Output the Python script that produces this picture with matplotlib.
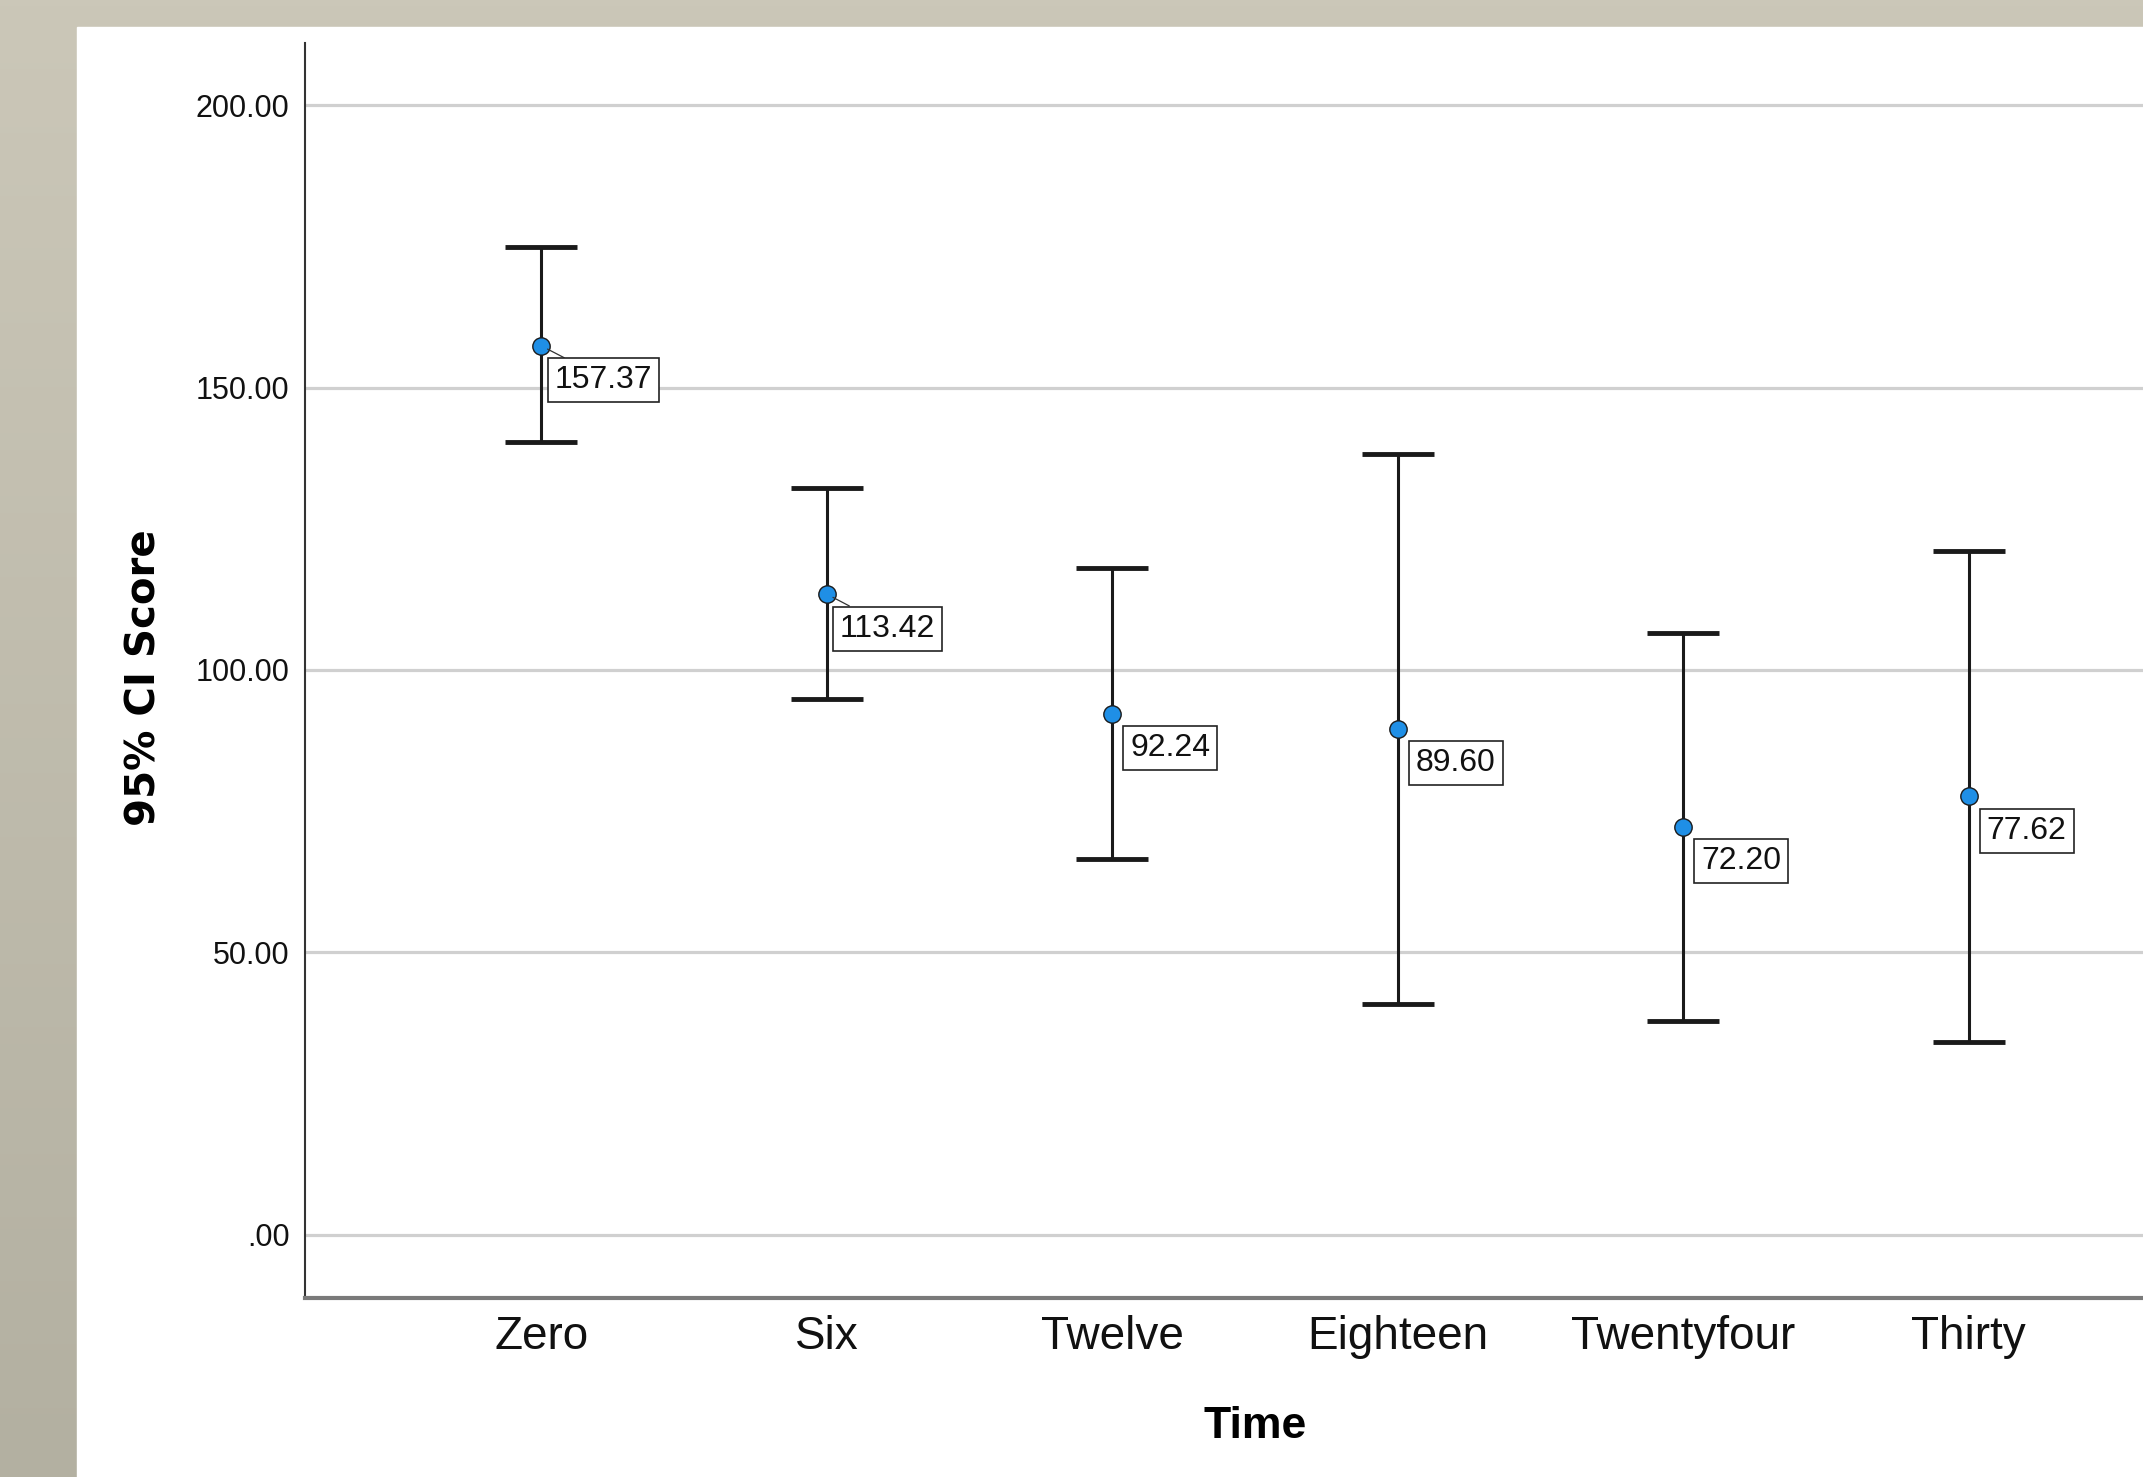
import numpy as np
import matplotlib
matplotlib.use("Agg")
import matplotlib.pyplot as plt
from matplotlib.colors import LinearSegmentedColormap
from matplotlib.patches import Rectangle

# data
times = ["Zero", "Six", "Twelve", "Eighteen", "Twentyfour", "Thirty"]
means = [157.37, 113.42, 92.24, 89.60, 72.20, 77.62]
ci_upper = [174.8, 132.2, 118.1, 138.3, 106.5, 121.0]
ci_lower = [140.3, 94.9, 66.6, 40.9, 37.9, 34.2]
yticks = [0, 50, 100, 150, 200]
ytick_labels = [".00", "50.00", "100.00", "150.00", "200.00"]

# narrowest installed sans for the horizontal text
narrow = "Liberation Sans"

W, H = 2143, 1477
fig = plt.figure(figsize=(W / 100, H / 100), dpi=100)

# slide background: beige frame + white panel
bg = fig.add_axes([0, 0, 1, 1], zorder=-5)
bg.set_axis_off()
cmap = LinearSegmentedColormap.from_list("beige", ["#cbc7b8", "#b3b0a1"])
bg.imshow(np.linspace(0, 1, 256).reshape(-1, 1), cmap=cmap, aspect="auto",
          extent=[0, 1, 0, 1])
bg.add_patch(Rectangle((77 / W, 0), 1, 1 - 27 / H, color="white"))
bg.set_xlim(0, 1)
bg.set_ylim(0, 1)

# main axes (runs past the right edge, like the cropped screenshot)
left, right, top, bottom = 305, 2205, 43, 1298
ax = fig.add_axes([left / W, 1 - bottom / H, (right - left) / W, (bottom - top) / H])
ax.set_facecolor("white")

x = np.arange(len(times))
m = np.array(means)
yerr = [m - np.array(ci_lower), np.array(ci_upper) - m]

eb = ax.errorbar(x, m, yerr=yerr, fmt="o", ms=12.5, mfc="#1f8fe6", mec="#1a1a1a",
                 mew=1.0, ecolor="#1a1a1a", elinewidth=2.2, capsize=26,
                 zorder=3)
# mew also hits the caps, so thicken them afterwards
for cap in eb[1]:
    cap.set_markeredgewidth(3.5)

# value labels in boxes, first two with a little callout
for i, v in enumerate(means):
    callout = i in (0, 1)
    dx = 9.5 if callout else 13
    kw = {}
    if callout:
        kw["arrowprops"] = dict(arrowstyle="-", color="#333333", lw=0.9,
                                relpos=(0.25, 1), shrinkA=0, shrinkB=5)
    ax.annotate(f"{v:.2f}", xy=(x[i], v), xytext=(dx, -14),
                textcoords="offset points", ha="left", va="top",
                fontsize=23, family=narrow, color="#111111",
                bbox=dict(boxstyle="square,pad=0.22", fc="white", ec="#222222", lw=1.2),
                zorder=4, **kw)

ax.set_xlim(-0.828, 5.828)
ax.set_ylim(-11.2, 211)

ax.set_yticks(yticks)
ax.set_yticklabels(ytick_labels, family=narrow, fontsize=22, color="#111111")
ax.set_xticks(x)
ax.set_xticklabels(times, family=narrow, fontsize=33, color="#111111")
ax.tick_params(axis="y", length=0, pad=11)
ax.tick_params(axis="x", length=0, pad=12)

ax.yaxis.grid(True, color="#d0d0d0", lw=2.3)
ax.set_axisbelow(True)

for s in ("top", "right"):
    ax.spines[s].set_visible(False)
ax.spines["left"].set_color("#333333")
ax.spines["left"].set_linewidth(1.5)
ax.spines["bottom"].set_color("#7a7a7a")
ax.spines["bottom"].set_linewidth(3)

ax.set_xlabel("Time", family=narrow, fontsize=32, fontweight="bold", va="top")
ax.xaxis.set_label_coords(0.5, -0.086)
ax.set_ylabel("95% CI Score", family="DejaVu Sans", fontsize=29, fontweight="bold",
              va="center")
ax.yaxis.set_label_coords(-0.0847, 0.494)

fig.savefig("out.png", dpi=100)
